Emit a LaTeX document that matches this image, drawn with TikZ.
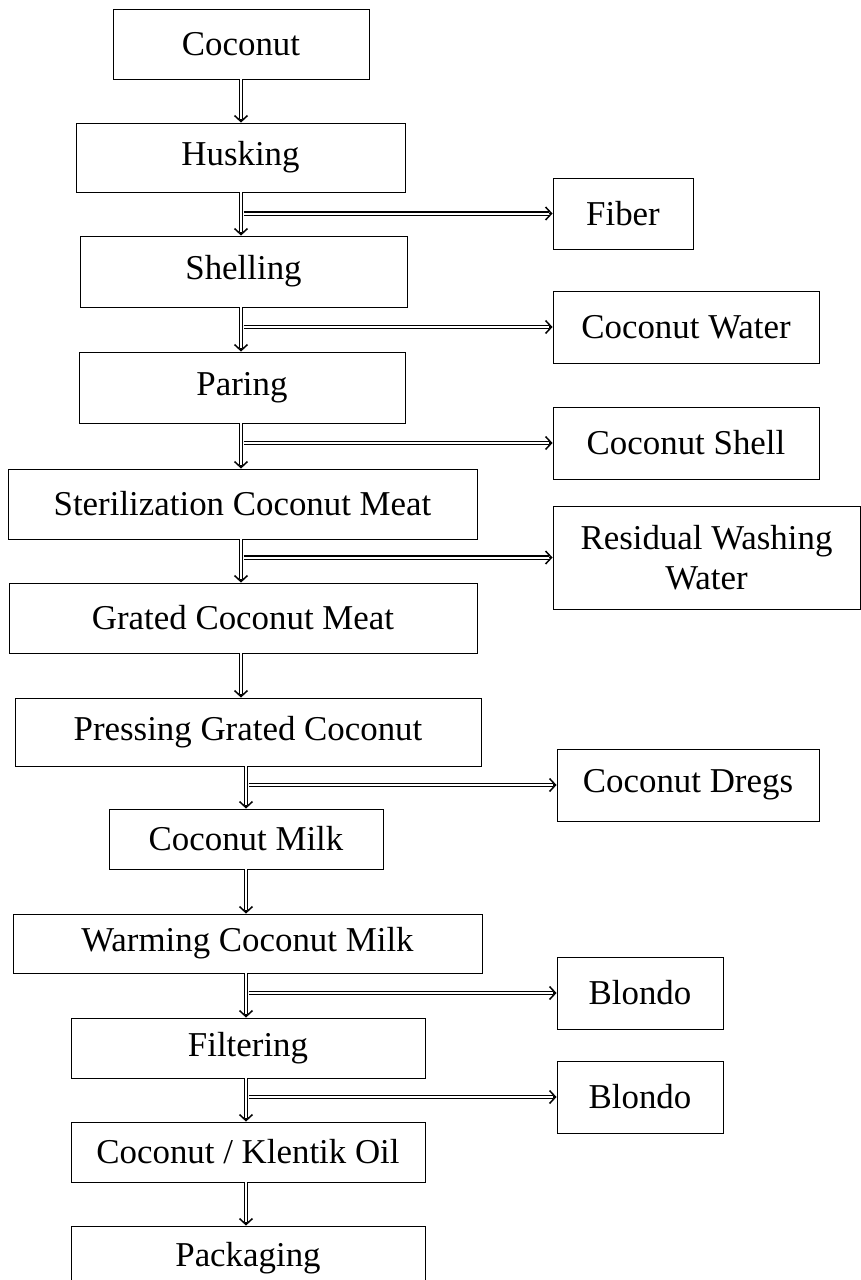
\documentclass[tikz,border=0pt]{standalone}
\usepackage{fontspec}
\setmainfont{Liberation Serif}
\usetikzlibrary{arrows.meta}
\newcommand\flowarrow[2]{\draw[head] #1 -- #2; \draw[dbl] #1 -- #2;}
\begin{document}
\begin{tikzpicture}[x=1bp,y=-1bp,
  box/.style={draw, line width=0.9bp, inner sep=0pt, align=center,
    font=\fontsize{35}{40}\selectfont},
  head/.style={line width=1.5bp, -{Straight Barb[length=6bp, width=13bp]}},
  dbl/.style={double, line width=1.4bp, double distance=2bp, shorten >=4bp}]
\useasboundingbox (0,0) rectangle (861,1280);
% main column
\node[box, minimum width=256bp, minimum height=70bp] (coconut) at (241,44) {Coconut};
\node[box, minimum width=329bp, minimum height=69bp] (husking) at (240.5,157.5) {Husking};
\node[box, minimum width=327bp, minimum height=71bp] (shelling) at (243.5,271.5) {Shelling};
\node[box, minimum width=326bp, minimum height=71bp] (paring) at (242,387.5) {Paring};
\node[box, minimum width=469bp, minimum height=70bp] (steril) at (242.5,504) {Sterilization Coconut Meat};
\node[box, minimum width=468bp, minimum height=70bp] (grated) at (243,618) {Grated Coconut Meat};
\node[box, minimum width=466bp, minimum height=68bp] (pressing) at (248,732) {Pressing Grated Coconut};
\node[box, minimum width=274bp, minimum height=60bp] (milk) at (246,839) {Coconut Milk};
\node[box, minimum width=469bp, minimum height=59bp] (warming) at (247.5,943.5) {Warming Coconut Milk};
\node[box, minimum width=354bp, minimum height=60bp] (filtering) at (248,1048) {Filtering};
\node[box, minimum width=354bp, minimum height=60bp] (oil) at (248,1152) {Coconut / Klentik Oil};
\node[box, minimum width=354bp, minimum height=64bp] (packaging) at (248,1258) {Packaging};
% side products
\node[box, minimum width=140bp, minimum height=71bp] (fiber) at (623,213.5) {Fiber};
\node[box, minimum width=266bp, minimum height=72bp] (water) at (686,327) {Coconut Water};
\node[box, minimum width=266bp, minimum height=72bp] (shell) at (686,443) {Coconut Shell};
\node[box, minimum width=307bp, minimum height=103bp] (residual) at (706.5,557.5) {Residual Washing\\Water};
\node[box, minimum width=262bp, minimum height=72bp] (dregs) at (688,785) {Coconut Dregs};
\node[box, minimum width=166bp, minimum height=72bp] (blondoA) at (640,993) {Blondo};
\node[box, minimum width=166bp, minimum height=72bp] (blondoB) at (640,1097) {Blondo};
% spines
\coordinate (sA) at (241,0);
\coordinate (hA) at (243.5,0);
\coordinate (sB) at (246,0);
\coordinate (hB) at (248.5,0);
% vertical arrows
\flowarrow{(coconut.south -| sA)}{(husking.north -| sA)}
\flowarrow{(husking.south -| sA)}{(shelling.north -| sA)}
\flowarrow{(shelling.south -| sA)}{(paring.north -| sA)}
\flowarrow{(paring.south -| sA)}{(steril.north -| sA)}
\flowarrow{(steril.south -| sA)}{(grated.north -| sA)}
\flowarrow{(grated.south -| sA)}{(pressing.north -| sA)}
\flowarrow{(pressing.south -| sB)}{(milk.north -| sB)}
\flowarrow{(milk.south -| sB)}{(warming.north -| sB)}
\flowarrow{(warming.south -| sB)}{(filtering.north -| sB)}
\flowarrow{(filtering.south -| sB)}{(oil.north -| sB)}
\flowarrow{(oil.south -| sB)}{(packaging.north -| sB)}
% side arrows
\flowarrow{(fiber.west -| hA)}{(fiber.west)}
\flowarrow{(water.west -| hA)}{(water.west)}
\flowarrow{(shell.west -| hA)}{(shell.west)}
\flowarrow{(residual.west -| hA)}{(residual.west)}
\flowarrow{(dregs.west -| hB)}{(dregs.west)}
\flowarrow{(blondoA.west -| hB)}{(blondoA.west)}
\flowarrow{(blondoB.west -| hB)}{(blondoB.west)}
\end{tikzpicture}
\end{document}
